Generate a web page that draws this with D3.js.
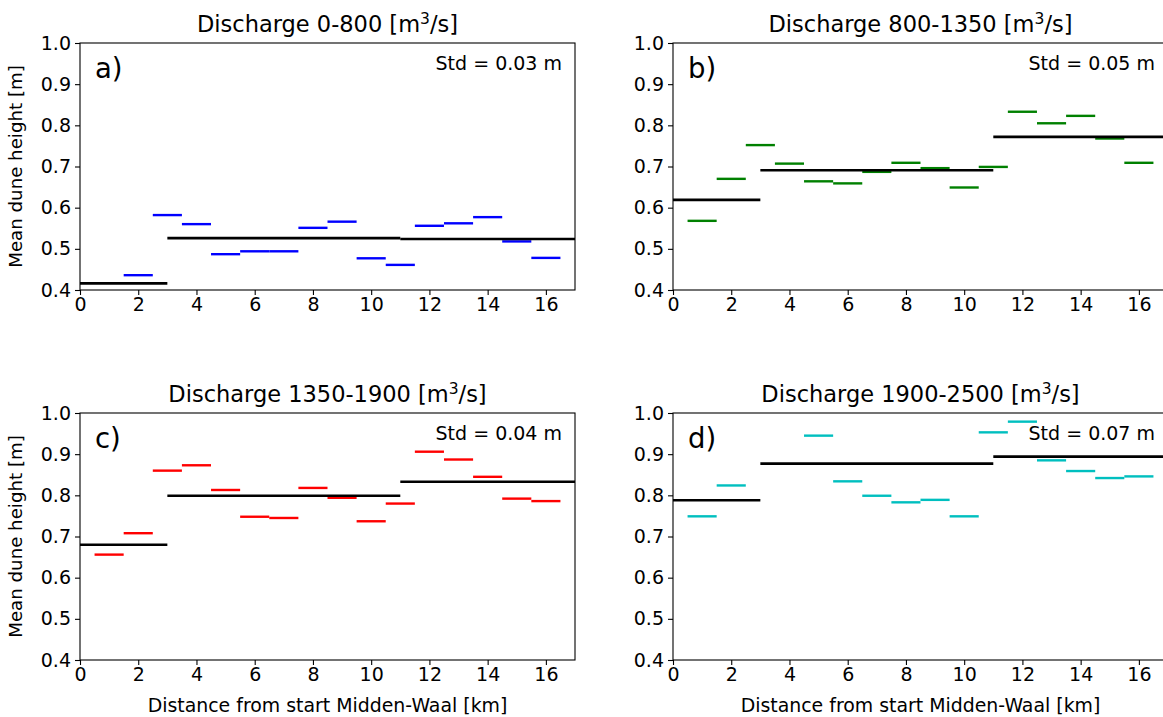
<!DOCTYPE html>
<html>
<head>
<meta charset="utf-8">
<script src="https://cdn.jsdelivr.net/npm/d3@7"></script>
<style>
  html, body { margin: 0; padding: 0; background: #fff; }
  svg { display: block; font-family: "DejaVu Sans", sans-serif; }
</style>
</head>
<body>
<svg id="chart" width="1163" height="717"></svg>
<script>
// ---- data ----
const kmCenters = [1, 2, 3, 4, 5, 6, 7, 8, 9, 10, 11, 12, 13, 14, 15, 16];
const seriesA = [null, 0.436, 0.582, 0.560, 0.487, 0.494, 0.494, 0.551, 0.566, 0.477, 0.461, 0.556, 0.562, 0.577, 0.518, 0.478];
const seriesB = [0.568, 0.670, 0.752, 0.707, 0.664, 0.659, 0.687, 0.709, 0.696, 0.649, 0.699, 0.833, 0.805, 0.823, 0.768, 0.709];
const seriesC = [0.656, 0.708, 0.860, 0.873, 0.813, 0.748, 0.745, 0.818, 0.794, 0.737, 0.780, 0.906, 0.887, 0.845, 0.792, 0.786];
const seriesD = [0.749, 0.824, null, null, 0.945, 0.834, 0.799, 0.783, 0.789, 0.749, 0.953, 0.979, 0.885, 0.859, 0.842, 0.846];
const meanBreaks = [0, 3, 11, 17];
const meanA = [0.416, 0.526, 0.524];
const meanB = [0.619, 0.691, 0.772];
const meanC = [0.680, 0.799, 0.833];
const meanD = [0.788, 0.877, 0.894];
const titles = ["Discharge 0-800", "Discharge 800-1350", "Discharge 1350-1900", "Discharge 1900-2500"];
const panelLetters = ["a)", "b)", "c)", "d)"];
const stdLabels = ["Std = 0.03 m", "Std = 0.05 m", "Std = 0.04 m", "Std = 0.07 m"];
const colors = ["#0000ff", "#008000", "#ff0000", "#00bfbf"];
const xTicks = [0, 2, 4, 6, 8, 10, 12, 14, 16];
const yTicks = [0.4, 0.5, 0.6, 0.7, 0.8, 0.9, 1.0];
const xLabel = "Distance from start Midden-Waal [km]";
const yLabel = "Mean dune height [m]";

const panels = [
  { series: seriesA, mean: meanA, left: 80,  top: 43 },
  { series: seriesB, mean: meanB, left: 673, top: 43 },
  { series: seriesC, mean: meanC, left: 80,  top: 413 },
  { series: seriesD, mean: meanD, left: 673, top: 413 }
];
const pw = 495, ph = 247;
const FS = 19;

const svg = d3.select("#chart");

panels.forEach((p, i) => {
  const g = svg.append("g").attr("transform", `translate(${p.left},${p.top})`);
  const x = d3.scaleLinear().domain([0, 17]).range([0, pw]);
  const y = d3.scaleLinear().domain([0.4, 1.0]).range([ph, 0]);

  // data segments
  const segs = kmCenters.map((k, j) => ({ k, v: p.series[j] })).filter(d => d.v !== null);
  g.selectAll("line.seg").data(segs).enter().append("line")
    .attr("class", "seg")
    .attr("x1", d => x(d.k - 0.5)).attr("x2", d => x(d.k + 0.5))
    .attr("y1", d => y(d.v)).attr("y2", d => y(d.v))
    .attr("stroke", colors[i]).attr("stroke-width", 2.4);

  // mean lines
  const means = p.mean.map((v, j) => ({ a: meanBreaks[j], b: meanBreaks[j + 1], v }));
  g.selectAll("line.mean").data(means).enter().append("line")
    .attr("class", "mean")
    .attr("x1", d => x(d.a)).attr("x2", d => x(d.b))
    .attr("y1", d => y(d.v)).attr("y2", d => y(d.v))
    .attr("stroke", "#000").attr("stroke-width", 2.6);

  // frame
  g.append("rect").attr("x", 0).attr("y", 0).attr("width", pw).attr("height", ph)
    .attr("fill", "none").attr("stroke", "#000").attr("stroke-width", 1.1);

  // axes
  const xa = g.append("g").attr("transform", `translate(0,${ph})`)
    .call(d3.axisBottom(x).tickValues(xTicks).tickFormat(d3.format("d")).tickSize(5).tickPadding(3));
  const ya = g.append("g")
    .call(d3.axisLeft(y).tickValues(yTicks).tickFormat(d3.format(".1f")).tickSize(5).tickPadding(4));
  [xa, ya].forEach(a => {
    a.select(".domain").remove();
    a.selectAll("text").attr("font-size", FS).attr("fill", "#000").attr("font-family", "DejaVu Sans");
    a.selectAll("line").attr("stroke", "#000").attr("stroke-width", 1.1);
  });

  // title
  const t = g.append("text").attr("x", pw / 2).attr("y", -11)
    .attr("text-anchor", "middle").attr("font-size", 22.5).attr("fill", "#000");
  t.append("tspan").text(titles[i] + " [m");
  t.append("tspan").attr("dy", -8).attr("font-size", 15.5).text("3");
  t.append("tspan").attr("dy", 8).text("/s]");

  // panel letter
  g.append("text").attr("x", 15).attr("y", 35).attr("font-size", 27.5).attr("fill", "#000")
    .text(panelLetters[i]);

  // std
  g.append("text").attr("x", pw - 13).attr("y", 27).attr("text-anchor", "end")
    .attr("font-size", FS).attr("fill", "#000").text(stdLabels[i]);

  // y label (left panels)
  if (i % 2 === 0) {
    g.append("text").attr("transform", `translate(${-58},${ph / 2}) rotate(-90)`)
      .attr("text-anchor", "middle").attr("font-size", 18.2).attr("fill", "#000").text(yLabel);
  }
  // x label (bottom panels)
  if (i >= 2) {
    g.append("text").attr("x", pw / 2).attr("y", ph + 52)
      .attr("text-anchor", "middle").attr("font-size", 18.9).attr("fill", "#000").text(xLabel);
  }
});
</script>
</body>
</html>
